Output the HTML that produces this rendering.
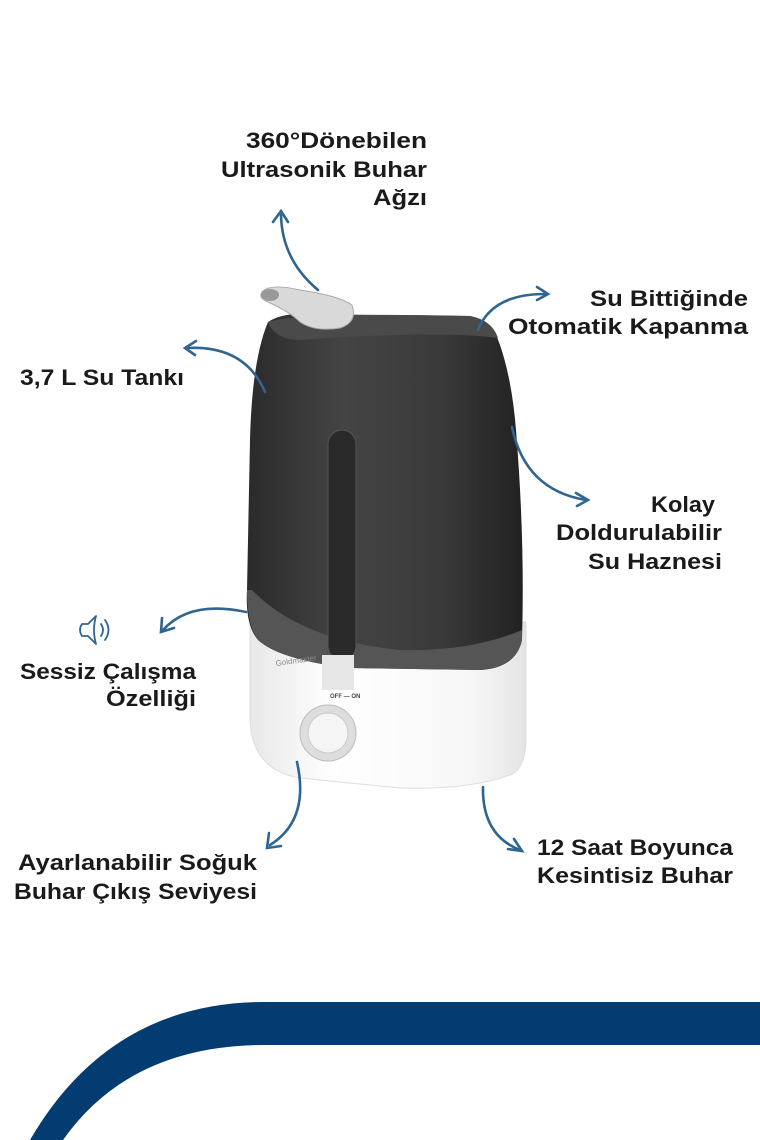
<!DOCTYPE html>
<html><head><meta charset="utf-8"><style>
html,body{margin:0;padding:0;background:#fff;}
svg{display:block}
text{font-family:"Liberation Sans",sans-serif;font-weight:600;font-size:22px;fill:#1a1a1a}
</style></head><body>
<svg width="760" height="1140" viewBox="0 0 760 1140" xmlns="http://www.w3.org/2000/svg">
<defs>
<linearGradient id="body" x1="0" x2="1" y1="0" y2="0">
<stop offset="0" stop-color="#2a2a2a"/><stop offset="0.35" stop-color="#444"/><stop offset="0.7" stop-color="#3a3a3a"/><stop offset="1" stop-color="#222"/>
</linearGradient>
<linearGradient id="base" x1="0" x2="1" y1="0" y2="0">
<stop offset="0" stop-color="#e8e8e8"/><stop offset="0.3" stop-color="#fff"/><stop offset="0.8" stop-color="#f7f7f7"/><stop offset="1" stop-color="#e4e4e4"/>
</linearGradient>
</defs>

<path d="M250 612 L250 720 Q252 770 300 778 L400 788 Q470 790 510 775 Q525 770 526 740 L526 622 Z" fill="url(#base)" stroke="#ddd"/>
<path d="M268 322 Q280 314 300 314 L470 316 Q492 320 500 345 Q512 380 516 430 Q525 540 522 640 Q516 668 480 670 L350 668 Q280 660 258 640 Q245 625 247 590 L250 440 Q252 360 268 322 Z" fill="url(#body)"/>
<path d="M268 322 Q300 312 470 316 Q492 320 498 338 Q440 330 300 340 Q275 340 268 322 Z" fill="#4a4a4a"/>
<path d="M252 590 Q300 640 400 650 Q470 652 522 630 L522 640 Q516 668 480 670 L350 668 Q280 660 258 640 Q247 625 247 590 Z" fill="#555"/>
<rect x="328" y="430" width="28" height="230" rx="14" fill="#2a2a2a" stroke="#555"/>
<rect x="322" y="655" width="32" height="35" fill="#e6e6e6"/>
<text x="276" y="666" style="font-size:8px;font-weight:400;fill:#888" transform="rotate(-8 276 666)">Goldmaster</text>
<circle cx="328" cy="733" r="28" fill="#ddd" stroke="#bbb"/>
<circle cx="328" cy="733" r="20" fill="#f5f5f5" stroke="#ccc"/>
<text x="330" y="698" style="font-size:6px;font-weight:700;fill:#444">OFF — ON</text>
<path d="M262 292 Q270 283 300 290 Q340 296 352 305 Q358 322 340 328 Q315 332 300 322 Q290 312 268 302 Q258 298 262 292 Z" fill="#d9d9d9" stroke="#aaa"/>
<ellipse cx="270" cy="295" rx="9" ry="6" fill="#999"/>

<g fill="none" stroke="#2f6590" stroke-width="2.6" stroke-linecap="round">
<path d="M318 290 Q282 260 281 215"/>
<path d="M273 222 L281 211 L288 222"/>
<path d="M478 330 Q492 294 545 294"/>
<path d="M537 287 L548 294 L537 300"/>
<path d="M265 392 Q245 345 187 348"/>
<path d="M196 341 L185 348 L195 355"/>
<path d="M512 427 Q525 490 586 500"/>
<path d="M576 493 L588 500 L577 506"/>
<path d="M246 612 Q190 600 163 630"/>
<path d="M162 618 L161 632 L174 628"/>
<path d="M297 762 Q310 820 270 845"/>
<path d="M269 833 L267 848 L281 846"/>
<path d="M483 787 Q482 835 520 850"/>
<path d="M508 849 L522 851 L514 839"/>
</g>

<g fill="none" stroke="#2f6590" stroke-width="1.8" stroke-linejoin="round" stroke-linecap="round">
<path d="M82 624 Q78 630 82 636 L88 636 L96 644 Q92 630 96 616 L88 624 Z"/>
<path d="M101 624 Q105 630 101 636"/>
<path d="M105 620 Q112 630 105 640"/>
</g>

<g lengthAdjust="spacingAndGlyphs">
<text x="246" y="148" textLength="181" lengthAdjust="spacingAndGlyphs">360°Dönebilen</text>
<text x="221" y="177" textLength="206" lengthAdjust="spacingAndGlyphs">Ultrasonik Buhar</text>
<text x="373" y="205" textLength="54" lengthAdjust="spacingAndGlyphs">Ağzı</text>

<text x="590" y="306" textLength="158" lengthAdjust="spacingAndGlyphs">Su Bittiğinde</text>
<text x="508" y="334" textLength="240" lengthAdjust="spacingAndGlyphs">Otomatik Kapanma</text>

<text x="20" y="385" textLength="164" lengthAdjust="spacingAndGlyphs">3,7 L Su Tankı</text>

<text x="651" y="512" textLength="64" lengthAdjust="spacingAndGlyphs">Kolay</text>
<text x="556" y="540" textLength="166" lengthAdjust="spacingAndGlyphs">Doldurulabilir</text>
<text x="588" y="569" textLength="134" lengthAdjust="spacingAndGlyphs">Su Haznesi</text>

<text x="20" y="679" textLength="176" lengthAdjust="spacingAndGlyphs">Sessiz Çalışma</text>
<text x="106" y="706" textLength="90" lengthAdjust="spacingAndGlyphs">Özelliği</text>

<text x="18" y="870" textLength="239" lengthAdjust="spacingAndGlyphs">Ayarlanabilir Soğuk</text>
<text x="14" y="899" textLength="243" lengthAdjust="spacingAndGlyphs">Buhar Çıkış Seviyesi</text>

<text x="537" y="855" textLength="196" lengthAdjust="spacingAndGlyphs">12 Saat Boyunca</text>
<text x="537" y="883" textLength="196" lengthAdjust="spacingAndGlyphs">Kesintisiz Buhar</text>
</g>

<path d="M30 1140 Q110 1002 265 1002 L760 1002 L760 1045 L265 1045 Q130 1045 63 1140 Z" fill="#033c71"/>
</svg>
</body></html>
